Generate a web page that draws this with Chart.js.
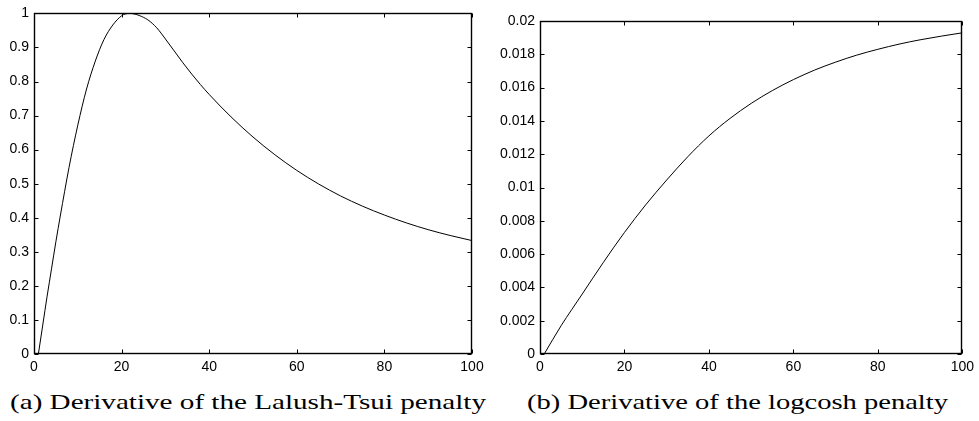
<!DOCTYPE html>
<html>
<head>
<meta charset="utf-8">
<script src="https://cdn.jsdelivr.net/npm/chart.js@4"></script>
<style>
  body { margin: 0; background: #fff; width: 979px; height: 421px; position: relative; overflow: hidden; }
  .box { position: absolute; top: 0; height: 380px; }
  .cap { position: absolute; top: 391px; font-family: "Liberation Serif", "Times New Roman", serif;
         font-size: 22px; line-height: 22px; white-space: nowrap; color: #000; transform-origin: left top; }
</style>
</head>
<body>
<div class="box" style="left:0;width:490px"><canvas id="leftChart" width="490" height="380"></canvas></div>
<div class="box" style="left:490px;width:489px"><canvas id="rightChart" width="489" height="380"></canvas></div>
<span class="cap" id="capA" style="left:10px" data-w="476">(a) Derivative of the Lalush-Tsui penalty</span>
<span class="cap" id="capB" style="left:527px" data-w="421">(b) Derivative of the logcosh penalty</span>
<script>
// values
const leftX = [1, 2, 3, 4, 5, 6, 7, 8, 10, 12, 14, 16, 18, 20, 21, 22, 23, 24, 26, 28, 30, 32, 34, 36, 38, 40,
  45, 50, 55, 60, 65, 70, 75, 80, 85, 90, 95, 100];
const leftY = [0, 0.085, 0.17, 0.25, 0.33, 0.405, 0.478, 0.548, 0.672, 0.778, 0.86, 0.924, 0.966, 0.993, 0.999, 1.0, 0.998, 0.994,
  0.981, 0.958, 0.925, 0.89, 0.855, 0.822, 0.791, 0.762, 0.696, 0.637, 0.585, 0.539, 0.499, 0.464, 0.434, 0.408, 0.385, 0.365, 0.348, 0.333];

const rightX = [1, 5, 10, 15, 20, 25, 30, 35, 40, 45, 50, 55, 60, 65, 70, 75, 80, 85, 90, 95, 100];
const rightY = [0, 0.0017, 0.0036, 0.0055, 0.0073, 0.00895, 0.01045, 0.01185, 0.0131, 0.01415, 0.01505, 0.01582,
  0.01648, 0.01705, 0.01753, 0.01795, 0.0183, 0.01861, 0.01887, 0.01909, 0.01929];

const xTickLabels = ['0', '20', '40', '60', '80', '100'];
const leftYTickLabels = ['0', '0.1', '0.2', '0.3', '0.4', '0.5', '0.6', '0.7', '0.8', '0.9', '1'];
const rightYTickLabels = ['0', '0.002', '0.004', '0.006', '0.008', '0.01', '0.012', '0.014', '0.016', '0.018', '0.02'];

const tickFont = { family: '"Liberation Sans", Arial, sans-serif', size: 14 };

// frame plus inward ticks on all four sides
const boxTicks = {
  id: 'boxTicks',
  afterDraw(chart) {
    const { ctx, chartArea: a, scales } = chart;
    const L = Math.round(a.left) + 0.5, R = Math.round(a.right) - 0.5;
    const T = Math.round(a.top) + 0.5, B = Math.round(a.bottom) - 0.5;
    ctx.save();
    ctx.strokeStyle = '#000';
    ctx.lineWidth = 1;
    ctx.beginPath();
    scales.x.ticks.forEach(t => {
      const px = Math.round(scales.x.getPixelForValue(t.value)) + 0.5;
      ctx.moveTo(px, B); ctx.lineTo(px, B - 4);
      ctx.moveTo(px, T); ctx.lineTo(px, T + 4);
    });
    scales.y.ticks.forEach(t => {
      const py = Math.round(scales.y.getPixelForValue(t.value)) + 0.5;
      ctx.moveTo(L, py); ctx.lineTo(L + 4, py);
      ctx.moveTo(R, py); ctx.lineTo(R - 4, py);
    });
    ctx.stroke();
    ctx.lineWidth = 1.4;
    ctx.strokeRect(L, T, R - L, B - T);
    ctx.restore();
  }
};

function makeChart(id, xs, ys, yLabels, yMax, yWidth, pad) {
  return new Chart(document.getElementById(id), {
    type: 'line',
    data: {
      datasets: [{
        data: xs.map((x, i) => ({ x: x, y: ys[i] })),
        borderColor: '#000',
        borderWidth: 1,
        pointRadius: 0,
        cubicInterpolationMode: 'monotone',
        fill: false
      }]
    },
    options: {
      responsive: false,
      animation: false,
      layout: { padding: pad },
      plugins: { legend: { display: false }, tooltip: { enabled: false } },
      scales: {
        x: {
          type: 'linear', min: 0, max: 100,
          grid: { display: false, drawTicks: false },
          border: { display: false },
          afterBuildTicks: s => { s.ticks = xTickLabels.map(l => ({ value: parseFloat(l) })); },
          afterFit: s => { s.height = 26; },
          ticks: { color: '#000', font: tickFont, padding: 5, maxRotation: 0, callback: (v, i) => xTickLabels[i] }
        },
        y: {
          type: 'linear', min: 0, max: yMax,
          grid: { display: false, drawTicks: false },
          border: { display: false },
          afterBuildTicks: s => { s.ticks = yLabels.map(l => ({ value: parseFloat(l) })); },
          afterFit: s => { s.width = yWidth; },
          ticks: { color: '#000', font: tickFont, padding: 5, callback: (v, i) => yLabels[i] }
        }
      }
    },
    plugins: [boxTicks]
  });
}

makeChart('leftChart', leftX, leftY, leftYTickLabels, 1, 34, { top: 9, right: 18, left: 0, bottom: 0 });
makeChart('rightChart', rightX, rightY, rightYTickLabels, 0.02, 50, { top: 21, right: 16, left: 0, bottom: 0 });

// stretch captions to the reference widths
document.querySelectorAll('.cap').forEach(el => {
  const w = el.getBoundingClientRect().width;
  el.style.transform = 'scaleX(' + (parseFloat(el.dataset.w) / w) + ')';
});
</script>
</body>
</html>
